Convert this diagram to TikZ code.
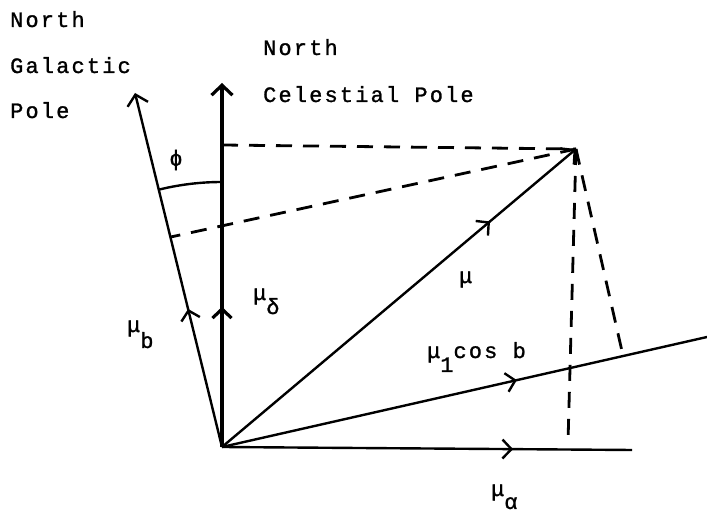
\documentclass[tikz,border=0pt]{standalone}
\usepackage{fontspec}
\newfontfamily\tw[LetterSpace=10,FakeBold=1.2]{Liberation Mono}
\usetikzlibrary{arrows.meta,decorations.markings,calc}
\begin{document}
\begin{tikzpicture}[x=1bp,y=1bp,
  axisline/.style={line width=2.4bp},
  thickaxis/.style={line width=3.2bp},
  dashline/.style={line width=2.8bp, dash pattern=on 16bp off 11bp},
  lbl/.style={font=\tw\fontsize{22}{26}\selectfont, inner sep=0pt, anchor=base west},
  tipend/.style={-{Straight Barb[length=10bp,width=21bp]}},
  midarrow/.style={postaction={decorate, decoration={markings, mark=at position #1 with {\arrow{Straight Barb[length=9bp,width=19bp]}}}}}
]
\useasboundingbox (0,0) rectangle (707,521);

\coordinate (O) at (222,74);
\coordinate (ncp) at (222,438);
\coordinate (ngp) at (135,428);
\coordinate (ha) at (632,71);
\coordinate (tl) at (707,184);
\coordinate (T) at (576,372);
\coordinate (dh) at (222,376);
\coordinate (pg) at ($(O)!0.593!(ngp)$);
\coordinate (pv) at (568,79);
\coordinate (pt) at ($(O)!0.827!(tl)$);
\coordinate (a1) at ($(O)+(0,265)$);

% dashed projections
\draw[dashline] (dh) -- (T);
\draw[dashline] (T) -- (pg);
\draw[dashline] (T) -- (pv);
\draw[dashline] (T) -- (pt);

% axes and vectors
\draw[thickaxis, tipend, midarrow=0.385] (O) -- (ncp);
\draw[axisline, tipend, midarrow=0.39] (O) -- (ngp);
\draw[axisline, tipend, midarrow=0.757] (O) -- (T);
\draw[axisline, midarrow=0.71] (O) -- (ha);
\draw[axisline, midarrow=0.608] (O) -- (tl);

% angle phi
\draw[axisline] (a1) arc[start angle=90, end angle=103.8, radius=265bp];

% labels
\node[lbl] (ngp1) at (10,494) {North};
\node[lbl] (ngp2) at (10,448) {Galactic};
\node[lbl] (ngp3) at (10,403) {Pole};
\node[lbl] (ncp1) at (263,466) {North};
\node[lbl] (ncp2) at (263,419) {Celestial Pole};
\node[lbl, anchor=center] (phi) at (176,361) {ϕ};
\node[lbl] (mud) at (253,221) {μ\raisebox{-14bp}{δ}};
\node[lbl] (mub) at (127,189) {μ\raisebox{-16bp}{b}};
\node[lbl] (mu) at (459,238) {μ};
\node[lbl] (mul) at (427,163) {μ\raisebox{-14bp}{1}cos b};
\node[lbl] (mua) at (491,25) {μ\raisebox{-13bp}{α}};
\end{tikzpicture}
\end{document}
